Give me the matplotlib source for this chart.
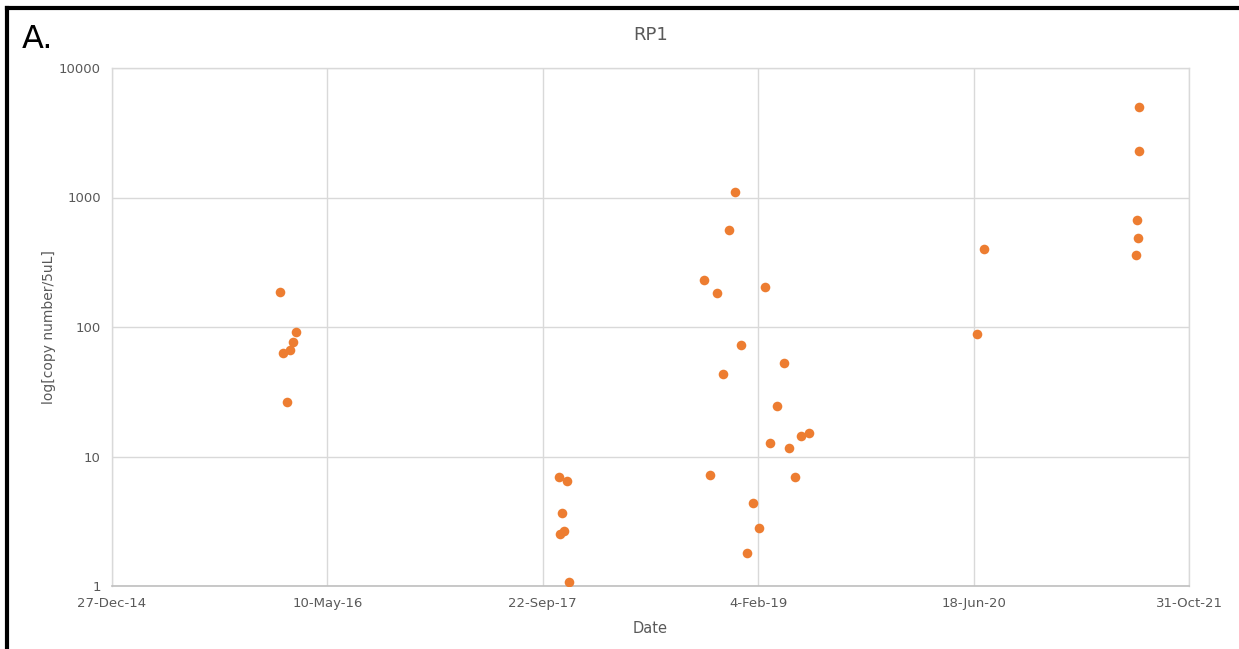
import numpy as np
import pandas as pd
import matplotlib.pyplot as plt
import matplotlib.dates as mdates
from matplotlib.lines import Line2D
import matplotlib.ticker as mticker

# Sample dates and copy numbers
dates = ['2016-01-21', '2016-02-26', '2016-02-19', '2016-02-13', '2016-01-27', '2016-02-06',
         '2017-10-29', '2017-11-18', '2017-11-06', '2017-11-10', '2017-11-02', '2017-11-21',
         '2018-12-13', '2018-11-28', '2018-10-02', '2018-11-01', '2019-02-20', '2018-12-25',
         '2019-04-04', '2018-11-15', '2019-03-20', '2019-06-01', '2019-05-15', '2019-03-03',
         '2019-04-16', '2018-10-16', '2019-04-30', '2019-01-23', '2019-02-05', '2019-01-10',
         '2020-07-12', '2020-06-26',
         '2021-07-06', '2021-07-06', '2021-07-02', '2021-07-04', '2021-07-01']
copies = [186, 92, 77, 66, 63, 26.5,
          7.0, 6.5, 3.64, 2.66, 2.52, 1.07,
          1109, 561, 231, 184, 205, 72,
          53, 43, 24.7, 15.3, 14.4, 12.7,
          11.6, 7.16, 6.95, 4.4, 2.79, 1.81,
          398, 89,
          5024, 2297, 670, 490, 358]

tick_dates = ['2014-12-27', '2016-05-10', '2017-09-22', '2019-02-04', '2020-06-18', '2021-10-31']
y_ticks = [1, 10, 100, 1000, 10000]

x = pd.to_datetime(dates)
xt = pd.to_datetime(tick_dates)

fig = plt.figure(figsize=(12.39, 6.49), dpi=100)
ax = fig.add_axes([112/1239, 1-586/649, 1077/1239, 518/649])

ax.scatter(x, copies, s=48, color='#ED7D31', zorder=3, linewidths=0)

ax.set_yscale('log')
ax.set_ylim(1, 10000)
ax.set_xlim(xt[0], xt[-1])
ax.set_yticks(y_ticks)
ax.yaxis.set_major_formatter(mticker.FuncFormatter(lambda v, p: f'{int(v)}'))
ax.yaxis.set_minor_locator(mticker.NullLocator())
ax.set_xticks(xt)
ax.xaxis.set_major_formatter(mdates.DateFormatter('%-d-%b-%y'))

ax.grid(True, color='#d9d9d9', linewidth=1.0)
ax.set_axisbelow(True)
for s in ['top', 'left', 'right']:
    ax.spines[s].set_color('#d9d9d9')
    ax.spines[s].set_linewidth(1.0)
ax.spines['bottom'].set_color('#bfbfbf')
ax.spines['bottom'].set_linewidth(1.2)
ax.tick_params(length=0, colors='#595959', labelsize=9.5, pad=8)

ax.set_xlabel('Date', color='#595959', fontsize=10.5, labelpad=8)
ax.set_ylabel('log[copy number/5uL]', color='#595959', fontsize=10, labelpad=2)
ax.set_title('RP1', color='#595959', fontsize=13, pad=20)

fig.text(37/1239, 1-40/649, 'A.', fontsize=23, va='center', ha='center',
         color='black', fontweight='medium')

# black frame at top and left
fig.add_artist(Line2D([7/1239, 1], [1-8/649, 1-8/649], color='black', linewidth=3))
fig.add_artist(Line2D([7/1239, 7/1239], [0, 1-8/649], color='black', linewidth=3))

plt.savefig('out.png', dpi=100)
